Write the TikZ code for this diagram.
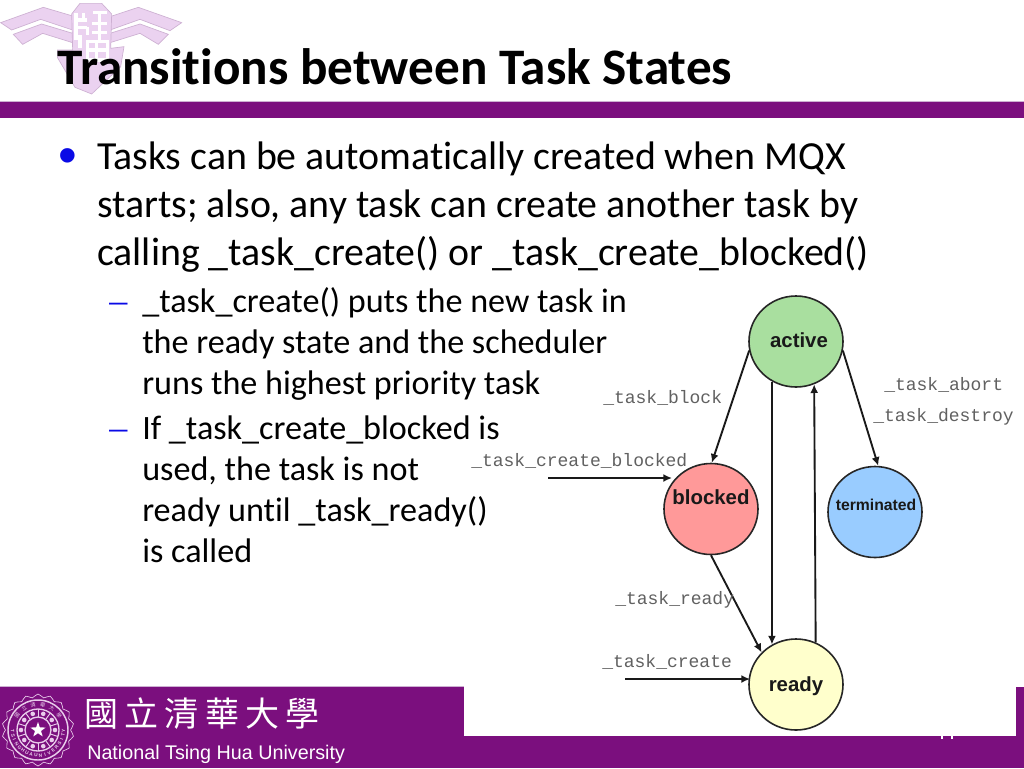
\documentclass[tikz,border=0pt]{standalone}
\usepackage{fontspec}
\setmainfont[Ligatures=NoCommon]{Carlito}
\newfontfamily\monof{Liberation Mono}
\newfontfamily\arialf{Liberation Sans}
\newfontfamily\timesf{Liberation Serif}
\newfontfamily\cjkf{Noto Sans CJK TC}
\definecolor{nthu}{HTML}{7B0F7E}
\definecolor{markblue}{HTML}{0A0AE6}
\definecolor{logopink}{HTML}{EBD2F0}
\definecolor{logoedge}{HTML}{CDB0D2}
\definecolor{greenst}{HTML}{A9DF9F}
\definecolor{redst}{HTML}{FF9999}
\definecolor{bluest}{HTML}{99CCFF}
\definecolor{yellowst}{HTML}{FFFFCC}
\definecolor{sealc}{HTML}{E9CDEB}
\usetikzlibrary{arrows.meta,shapes.geometric}
\tikzset{
  title/.style={anchor=base west,inner sep=0pt,font=\fontsize{38.4}{38.4}\selectfont\bfseries,text=black},
  bodyl/.style={anchor=base west,inner sep=0pt,font=\fontsize{29.87}{29.87}\selectfont,text=black},
  subl/.style={anchor=base west,inner sep=0pt,font=\fontsize{25.6}{25.6}\selectfont,text=black},
  markl/.style={anchor=base west,inner sep=0pt,text=markblue},
  state/.style={ellipse,draw=black!85,line width=1.2pt,minimum width=70.5pt,minimum height=68.25pt,inner sep=0pt},
  statetext/.style={inner sep=0pt,text=black!90,font=\arialf\bfseries\fontsize{15.3}{15.3}\selectfont},
  trans/.style={draw=black!90,line width=1.4pt,-{Latex[length=6.5pt,width=6pt]}},
  fn/.style={anchor=base west,inner sep=0pt,text=black!62,font=\monof\fontsize{13.5}{13.5}\selectfont},
  wing/.style={fill=logopink,draw=logoedge,line width=.5pt},
  glyph/.style={draw=white,line width=2.6pt},
  sealline/.style={draw=sealc,line width=.7pt},
}
\begin{document}
\begin{tikzpicture}[x=0.75pt,y=-0.75pt]
\useasboundingbox (0,0) rectangle (1024,768);
\fill[white] (0,0) rectangle (1024,768);
% top logo (coordinates from a 3x grid)
\begin{scope}[x=0.25pt,y=-0.25pt]
\path[wing] (2,68)--(130,22)--(218,48)--(218,90)--(122,58)--(35,90)--cycle;
\path[wing] (40,103)--(125,72)--(218,100)--(218,128)--(128,100)--(68,133)--cycle;
\path[wing] (330,50)--(415,22)--(545,68)--(510,92)--(420,58)--(330,90)--cycle;
\path[wing] (330,100)--(420,72)--(505,103)--(475,133)--(420,100)--(330,128)--cycle;
\path[wing] (215,42)--(240,10)--(305,10)--(335,42)--(332,145)--(372,140)--(362,200)--(275,282)--(225,262)--(172,172)--(172,150)--(218,150)--cycle;
\draw[glyph] (228,38)--(228,120) (228,60)--(262,60) (250,38)--(250,60) (228,82)--(262,82) (262,82)--(262,105) (240,105)--(240,145);
\draw[glyph] (280,38)--(322,38) (298,38)--(298,70) (275,70)--(322,70) (275,98)--(322,98) (298,70)--(298,125);
\draw[glyph] (262,125)--(322,125)--(322,180)--(262,180)--cycle (262,150)--(322,150) (290,125)--(290,180);
\end{scope}
% title band
\fill[nthu] (0,102) rectangle (1024,118);
\draw[logoedge,line width=.4pt] (0,101.5)--(1024,101.5);
\node[title] (ttl) at (57,84) {Transitions between Task States};
% body text
\node[markl,font=\arialf\fontsize{40}{40}\selectfont] (b0) at (58.5,173) {•};
\node[bodyl] (b1) at (97,169) {Tasks can be automatically created when MQX};
\node[bodyl] (b2) at (97,217) {starts; also, any task can create another task by};
\node[bodyl] (b3) at (97,265) {calling \_task\_create() or \_task\_create\_blocked()};
\node[markl,font=\timesf\fontsize{27}{27}\selectfont] (d1) at (109,312) {–};
\node[subl] (s1) at (142,312) {\_task\_create() puts the new task in};
\node[subl] (s2) at (142,353) {the ready state and the scheduler};
\node[subl] (s3) at (142,394) {runs the highest priority task};
\node[markl,font=\timesf\fontsize{27}{27}\selectfont] (d2) at (109,439) {–};
\node[subl] (s4) at (142,439) {If \_task\_create\_blocked is};
\node[subl] (s5) at (142,480) {used, the task is not};
\node[subl] (s6) at (142,521) {ready until \_task\_ready()};
\node[subl] (s7) at (142,562) {is called};
% footer
\fill[nthu] (0,687) rectangle (1024,768);
\draw[logoedge,line width=.4pt] (0,686.7)--(464,686.7);
\fill[white] (464,687) rectangle (1016,736);
\draw[white,line width=.8pt] (942,736)--(942,739) (952,736)--(952,739);
% seal
\begin{scope}[shift={(38,730)}]
\draw[sealline,line width=.5pt] plot[samples=73,domain=0:360,variable=\a] ({(36-1.7*(1+cos(\a*18)))*cos(\a)},{(36-1.7*(1+cos(\a*18)))*sin(\a)});
\draw[sealline,line width=1.1pt] (0,0) circle[radius=30];
\draw[sealline,line width=1pt] (0,0) circle[radius=21];
\draw[sealline,line width=1pt] (0,0) circle[radius=13];
\foreach \a in {18,54,...,342}{\draw[sealline] (\a:13) -- (\a:21);}
\foreach \a in {0,36,...,324}{\fill[sealc] (\a:17) circle[radius=2.3];}
\fill[white] (-90:8)--(-54:3.2)--(-18:8)--(18:3.2)--(54:8)--(90:3.2)--(126:8)--(162:3.2)--(198:8)--(234:3.2)--cycle;
\foreach \ch [count=\i from 0] in {國,立,清,華,大,學}{
  \pgfmathsetmacro\ang{-(145-\i*22)}
  \node[inner sep=0pt,text=sealc,font=\cjkf\fontsize{3.9}{3.9}\selectfont,rotate=-\ang-90] at ({25.5*cos(\ang)},{25.5*sin(\ang)}) {\ch};
}
\foreach \ch [count=\i from 0] in {T,S,I,N,G,H,U,A,U,N,I,V,E,R,S,I,T,Y}{
  \pgfmathsetmacro\ang{178-\i*10.4}
  \node[inner sep=0pt,text=sealc,font=\arialf\bfseries\fontsize{3.6}{3.6}\selectfont,rotate=90-\ang] at ({25.5*cos(\ang)},{25.5*sin(\ang)}) {\ch};
}
\end{scope}
\node[anchor=center,inner sep=0pt,text=white,font=\cjkf\fontsize{25.5}{25.5}\selectfont] (cname) at (202,714) {國\hspace{4.8pt}立\hspace{4.8pt}清\hspace{4.8pt}華\hspace{4.8pt}大\hspace{4.8pt}學};
\node[anchor=base west,inner sep=0pt,text=white,font=\arialf\fontsize{14.8}{14.8}\selectfont] (ename) at (87,759) {National Tsing Hua University};
% states
\node[state,fill=greenst] (active) at (796,341.5) {};
\node[state,fill=redst] (blocked) at (711,509) {};
\node[state,fill=bluest] (terminated) at (875,512) {};
\node[state,fill=yellowst] (ready) at (796,684.5) {};
\node[statetext] (tactive) at (799,340) {active};
\node[statetext] (tblocked) at (711,497) {blocked};
\node[statetext,font=\arialf\bfseries\fontsize{11.8}{11.8}\selectfont] (tterminated) at (876,505) {terminated};
\node[statetext] (tready) at (796,686) {ready};
\coordinate (c1) at (548,478);
\coordinate (c2) at (625,679);
\coordinate (c1e) at (672,478);
\coordinate (c2e) at (750,679);
\draw[trans] (active.191) -- (blocked.89);
\draw[trans] (active.349) -- (terminated.86);
\draw[trans] (active.239) -- (ready.121.5);
\draw[trans] (ready.65.6) -- (active.293.8);
\draw[trans] (blocked.270) -- (ready.137.6);
\draw[trans] (c1) -- (c1e);
\draw[trans] (c2) -- (c2e);
\node[fn] (l1) at (603,403) {\_task\_block};
\node[fn] (l2) at (884,390) {\_task\_abort};
\node[fn] (l3) at (873,421) {\_task\_destroy};
\node[fn] (l4) at (471,466) {\_task\_create\_blocked};
\node[fn] (l5) at (615,604) {\_task\_ready};
\node[fn] (l6) at (602,667) {\_task\_create};
\end{tikzpicture}
\end{document}
